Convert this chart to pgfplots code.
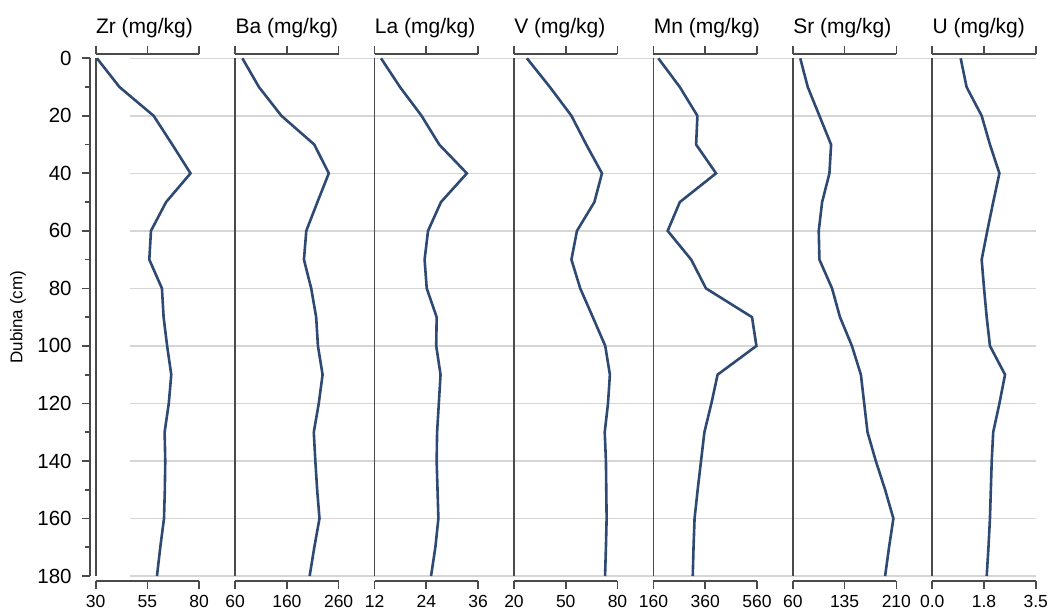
\documentclass[border=0pt]{standalone}
\usepackage{fontspec}
\setmainfont{Liberation Sans}
\usepackage{pgfplots}
\usepackage{pgfplotstable}
\pgfplotsset{compat=1.18}
\definecolor{curve}{HTML}{2E4A72}
\definecolor{axisgray}{HTML}{4A4A4A}
\definecolor{gridgray}{HTML}{D6D6D6}

\pgfplotstableread{
d   Zr    Ba     La    V     Mn    Sr     U
0   30.6  74     13.5  27.5  179   70.7   0.96
10  41.5  106    17.9  40.8  262   81.6   1.16
20  58.0  149.5  22.9  53.3  330   98.5   1.67
30  67.0  213    27.0  61.9  325   115.4  1.95
40  75.8  241    33.4  71.0  402   113    2.27
50  64.0  219    27.4  66.6  262   102.4  2.06
60  56.7  197.5  24.4  56.5  215   97.5   1.86
70  55.9  193    23.6  53.3  306   98.5   1.67
80  62.0  207    24.1  58.4  363   116.8  1.75
90  62.8  216.6  26.4  65.7  541   128.3  1.84
100 64.5  220    26.3  72.9  558   145.6  1.95
110 66.5  229    27.3  75.6  408   158.6  2.46
120 65.3  221.6  26.9  74.5  384   163.4  2.27
130 63.3  212    26.5  72.6  357   168.2  2.06
140 63.6  215    26.4  73.3  344   180.2  2.01
150 63.4  218.5  26.6  73.5  331   193.7  1.98
160 63.0  223    26.8  73.7  319   205.7  1.95
170 61.2  213    26.1  73.3  315   199.4  1.90
180 59.6  204    25.1  72.8  312   193.7  1.84
}\datatable

\tikzset{ttl/.style={anchor=base west, inner sep=0pt, font=\fontsize{10.5}{12}\selectfont}}

\pgfplotsset{
  /pgf/number format/assume math mode=true,
  frame/.style={
    anchor=south west, scale only axis, width=51.75pt, height=263.35pt,
    ymin=0, ymax=1, ytick=\empty,
    axis x line=box, axis y line=none,
    tick align=outside, major tick length=4.2pt,
    axis line style={draw=axisgray, line width=0.85pt},
    tick style={draw=axisgray, line width=0.85pt},
    xticklabel style={font=\fontsize{8.75}{10}\selectfont, inner sep=0pt, anchor=north},
    xticklabel shift=3pt,
    clip=false,
  },
  panel/.style={
    anchor=south west, scale only axis, width=51.75pt, height=258.85pt,
    ymin=0, ymax=180, y dir=reverse,
    axis x line=none, axis y line*=left,
    xtick=\empty, ytick=\empty,
    axis line style={draw=axisgray, line width=0.85pt},
    clip=false,
  },
}

\begin{document}
\begin{tikzpicture}
% grid background
\begin{axis}[anchor=south west, at={(65pt,18.5pt)}, scale only axis,
  width=453pt, height=258.85pt, xmin=0, xmax=1, ymin=0, ymax=180, y dir=reverse,
  xtick=\empty, ytick={0,20,...,180}, yticklabels={}, ymajorgrids,
  axis line style={draw=none}, major tick length=0pt,
  grid style={draw=gridgray, line width=0.7pt}]
\end{axis}

% depth axis
\begin{axis}[anchor=south west, at={(45pt,18.5pt)}, scale only axis,
  width=1pt, height=258.85pt, xmin=0, xmax=1, ymin=0, ymax=180, y dir=reverse,
  axis x line=none, axis y line*=left,
  xtick=\empty, ytick={0,20,...,180}, minor y tick num=1,
  tick align=outside, major tick length=4pt, minor tick length=2.5pt,
  axis line style={draw=axisgray, line width=0.85pt},
  tick style={draw=axisgray, line width=0.85pt},
  yticklabel style={font=\fontsize{10.25}{12}\selectfont, inner sep=0pt, anchor=east},
  yticklabel shift=5pt]
\end{axis}
\node[rotate=90, font=\fontsize{8.5}{10}\selectfont] at (9pt,147.9pt) {Dubina (cm)};

% Zr
\begin{axis}[frame, at={(47.85pt,16.15pt)}, xmin=30, xmax=80, xtick={30,55,80}]
\node[ttl] at (rel axis cs:0,1) [yshift=10.35pt] {Zr (mg/kg)};
\end{axis}
\begin{axis}[panel, at={(47.85pt,18.5pt)}, xmin=30, xmax=80]
\addplot[curve, line width=1.3pt] table[x=Zr, y=d] {\datatable};
\end{axis}

% Ba
\begin{axis}[frame, at={(117.565pt,16.15pt)}, xmin=60, xmax=260, xtick={60,160,260}]
\node[ttl] at (rel axis cs:0,1) [yshift=10.35pt] {Ba (mg/kg)};
\end{axis}
\begin{axis}[panel, at={(117.565pt,18.5pt)}, xmin=60, xmax=260]
\addplot[curve, line width=1.3pt] table[x=Ba, y=d] {\datatable};
\end{axis}

% La
\begin{axis}[frame, at={(187.28pt,16.15pt)}, xmin=12, xmax=36, xtick={12,24,36}]
\node[ttl] at (rel axis cs:0,1) [yshift=10.35pt] {La (mg/kg)};
\end{axis}
\begin{axis}[panel, at={(187.28pt,18.5pt)}, xmin=12, xmax=36]
\addplot[curve, line width=1.3pt] table[x=La, y=d] {\datatable};
\end{axis}

% V
\begin{axis}[frame, at={(256.995pt,16.15pt)}, xmin=20, xmax=80, xtick={20,50,80}]
\node[ttl] at (rel axis cs:0,1) [yshift=10.35pt] {V (mg/kg)};
\end{axis}
\begin{axis}[panel, at={(256.995pt,18.5pt)}, xmin=20, xmax=80]
\addplot[curve, line width=1.3pt] table[x=V, y=d] {\datatable};
\end{axis}

% Mn
\begin{axis}[frame, at={(326.71pt,16.15pt)}, xmin=160, xmax=560, xtick={160,360,560}]
\node[ttl] at (rel axis cs:0,1) [yshift=10.35pt] {Mn (mg/kg)};
\end{axis}
\begin{axis}[panel, at={(326.71pt,18.5pt)}, xmin=160, xmax=560]
\addplot[curve, line width=1.3pt] table[x=Mn, y=d] {\datatable};
\end{axis}

% Sr
\begin{axis}[frame, at={(396.425pt,16.15pt)}, xmin=60, xmax=210, xtick={60,135,210}]
\node[ttl] at (rel axis cs:0,1) [yshift=10.35pt] {Sr (mg/kg)};
\end{axis}
\begin{axis}[panel, at={(396.425pt,18.5pt)}, xmin=60, xmax=210]
\addplot[curve, line width=1.3pt] table[x=Sr, y=d] {\datatable};
\end{axis}

% U
\begin{axis}[frame, at={(466.14pt,16.15pt)}, xmin=0, xmax=3.5, xtick={0,1.75,3.5},
  xticklabels={0.0,1.8,3.5}]
\node[ttl] at (rel axis cs:0,1) [yshift=10.35pt] {U (mg/kg)};
\end{axis}
\begin{axis}[panel, at={(466.14pt,18.5pt)}, xmin=0, xmax=3.5]
\addplot[curve, line width=1.3pt] table[x=U, y=d] {\datatable};
\end{axis}

\pgfresetboundingbox
\path[use as bounding box] (0,0) rectangle (524.5pt,306.5pt);
\end{tikzpicture}
\end{document}
